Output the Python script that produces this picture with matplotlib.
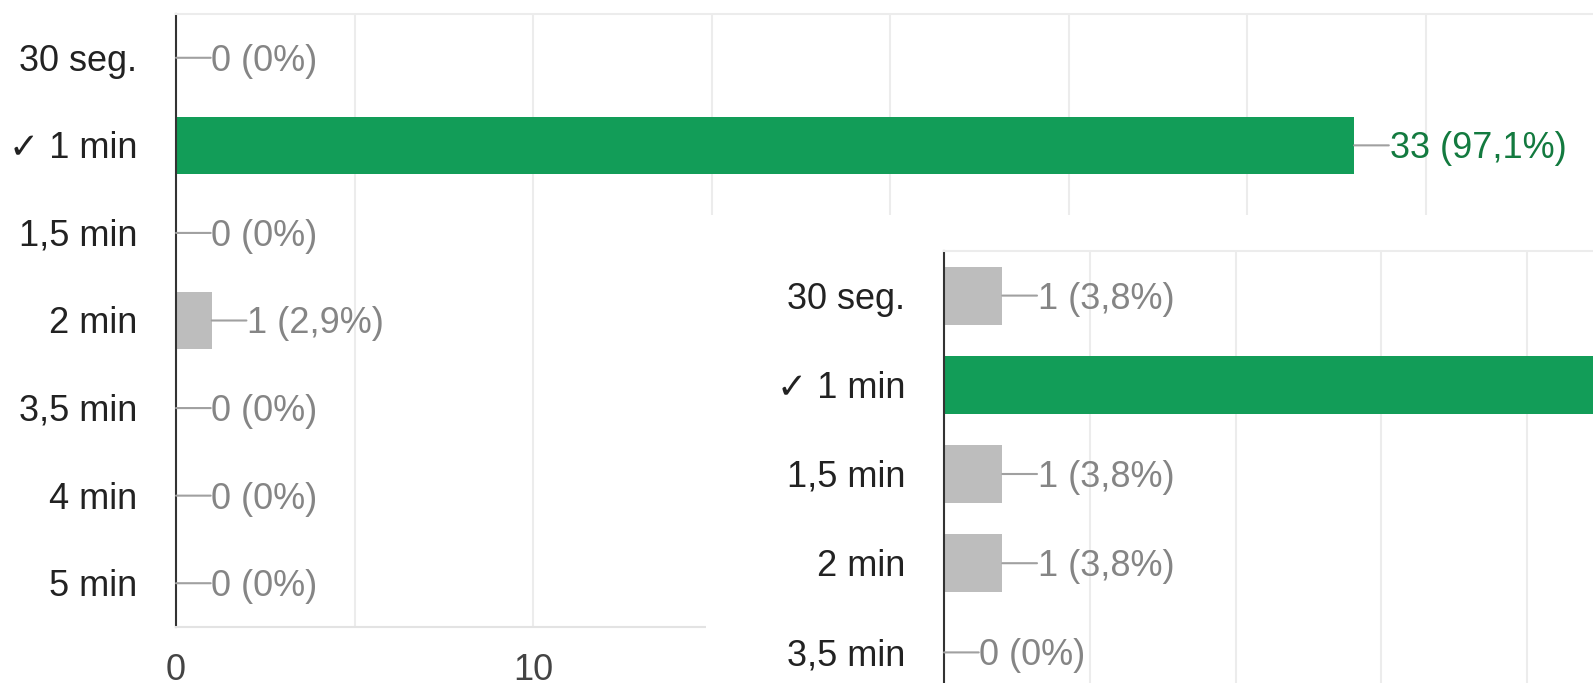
import matplotlib.pyplot as plt
from matplotlib.ticker import MultipleLocator

plt.rcParams['font.family'] = ['Liberation Sans', 'DejaVu Sans']

# données (deux graphiques Google Forms superposés)
categories = ["30 seg.", "✓ 1 min", "1,5 min", "2 min", "3,5 min", "4 min", "5 min"]
reponses_a = [0, 33, 0, 1, 0, 0, 0]
etiquettes_a = ["0 (0%)", "33 (97,1%)", "0 (0%)", "1 (2,9%)", "0 (0%)", "0 (0%)", "0 (0%)"]
reponses_b = [1, 23, 1, 1, 0, 0, 0]
etiquettes_b = ["1 (3,8%)", "23 (88,5%)", "1 (3,8%)", "1 (3,8%)", "0 (0%)", "0 (0%)", "0 (0%)"]
bonne = 1  # indice de la bonne réponse

W, H = 1593, 683
FS = 26
VERT = '#129d58'
VERT_TXT = '#137a3f'
GRIS = '#bdbdbd'
GRIS_TXT = '#858585'
GRILLE = '#ececec'
DEMI = 0.716 * FS / 2   # demi hauteur des chiffres (pt), pour les centrer


def px(left, top, width, height):
    # position en pixels -> fractions de la figure
    return [left / W, (H - top - height) / H, width / W, height / H]


def tracer(ax, valeurs, etiquettes, xmax, pas):
    y = range(len(categories))
    couleurs = [VERT if i == bonne else GRIS for i in y]
    ax.barh(y, valeurs, height=0.65, color=couleurs, zorder=2)
    for i, (v, lab) in enumerate(zip(valeurs, etiquettes)):
        # petit trait gris puis le texte
        ax.annotate('', xy=(v, i), xytext=(25, 0), textcoords='offset points',
                    arrowprops=dict(arrowstyle='-', color='#a0a0a0', lw=1.5,
                                    shrinkA=0, shrinkB=0))
        ax.annotate(lab, xy=(v, i), xytext=(25.5, -DEMI), textcoords='offset points',
                    va='baseline', ha='left', fontsize=FS,
                    color=VERT_TXT if i == bonne else GRIS_TXT)
        # nom de la catégorie à gauche de l'axe
        ax.annotate(categories[i], xy=(0, i), xytext=(-28, -DEMI),
                    textcoords='offset points', va='baseline', ha='right',
                    fontsize=FS, color='#222222', annotation_clip=False)
    ax.set_xlim(0, xmax)
    ax.set_ylim(len(categories) - 0.5, -0.5)
    ax.set_yticks([])
    ax.xaxis.set_major_locator(MultipleLocator(pas * 2))
    ax.xaxis.set_minor_locator(MultipleLocator(pas))
    ax.tick_params(axis='both', which='both', length=0)
    ax.tick_params(axis='x', pad=19, labelsize=FS, labelcolor='#444444')
    ax.grid(True, axis='x', which='both', color=GRILLE, lw=1.5)
    ax.set_axisbelow(True)
    ax.spines['right'].set_visible(False)
    ax.spines['top'].set_color(GRILLE)
    ax.spines['bottom'].set_color('#e3e3e3')
    ax.spines['top'].set_linewidth(1.5)
    ax.spines['bottom'].set_linewidth(1.5)
    ax.spines['left'].set_color('#333333')
    ax.spines['left'].set_linewidth(1.5)


fig = plt.figure(figsize=(W / 100, H / 100), dpi=100)

# premier graphique
ax1 = fig.add_axes(px(176, 14, 40 * 35.7, 613))
tracer(ax1, reponses_a, etiquettes_a, 40, 5)

# fond blanc du second graphique qui recouvre le premier
cache = fig.add_axes(px(706, 215, W - 706, H - 215))
cache.set_facecolor('white')
cache.set_xticks([])
cache.set_yticks([])
for s in cache.spines.values():
    s.set_visible(False)

# second graphique
ax2 = fig.add_axes(px(944, 251, 25 * 58.3, 7 * 89.2))
tracer(ax2, reponses_b, etiquettes_b, 25, 2.5)

fig.savefig("out.png", dpi=100, facecolor='white')
